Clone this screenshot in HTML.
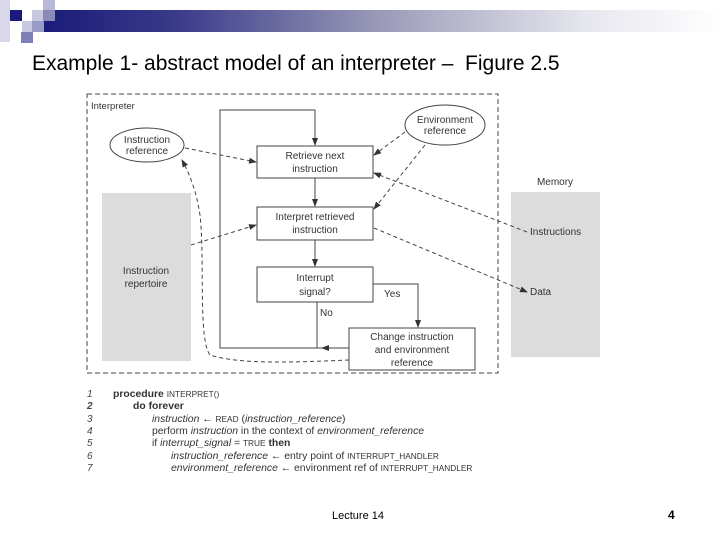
<!DOCTYPE html>
<html><head><meta charset="utf-8"><style>
body{margin:0;width:720px;height:540px;background:#fff;overflow:hidden;position:relative;font-family:"Liberation Sans",sans-serif}
.a{position:absolute}
.code{position:absolute;font-size:10.4px;color:#333;white-space:nowrap}
.n{position:absolute;left:87px;font-style:italic;font-size:10px;color:#444}
.sc{font-size:8.3px}
</style></head><body>
<div class="a" style="left:40px;top:10px;width:680px;height:22px;background:linear-gradient(90deg,#1a1a7a 0%,#3a3a8a 20%,#9a9ab8 50%,#e6e6ee 80%,#fff 100%)"></div>
<div class="a" style="left:0;top:0;width:10px;height:42px;background:#d8d8ea"></div>
<div class="a" style="left:10px;top:10px;width:12px;height:11px;background:#1a1a7a"></div>
<div class="a" style="left:32px;top:10px;width:12px;height:11px;background:#c8c8e0"></div>
<div class="a" style="left:43px;top:0;width:12px;height:11px;background:#b8b8d8"></div>
<div class="a" style="left:43px;top:10px;width:12px;height:11px;background:#8a8ab8"></div>
<div class="a" style="left:22px;top:21px;width:12px;height:11px;background:#c8c8e0"></div>
<div class="a" style="left:32px;top:21px;width:12px;height:11px;background:#9a9ac8"></div>
<div class="a" style="left:21px;top:32px;width:12px;height:11px;background:#8080b8"></div>
<div class="a" style="left:32px;top:52px;font-size:21px;color:#000">Example 1- abstract model of an interpreter –&nbsp; Figure 2.5</div>

<svg class="a" style="left:0;top:0" width="720" height="540" font-family="Liberation Sans, sans-serif" font-size="10" fill="#333">
<defs><marker id="ar" markerWidth="8" markerHeight="6" refX="7" refY="3" orient="auto"><path d="M0,0 L8,3 L0,6z" fill="#333"/></marker></defs>
<rect x="87" y="94" width="411" height="279" fill="none" stroke="#444" stroke-dasharray="5,3"/>
<text x="91" y="109" font-size="9.5">Interpreter</text>
<rect x="102" y="193" width="89" height="168" fill="#dcdcdc"/>
<text x="146" y="274" text-anchor="middle">Instruction</text>
<text x="146" y="287" text-anchor="middle">repertoire</text>
<rect x="511" y="192" width="89" height="165" fill="#dcdcdc"/>
<text x="555" y="185" text-anchor="middle">Memory</text>
<text x="530" y="235">Instructions</text>
<text x="530" y="295">Data</text>
<ellipse cx="147" cy="145" rx="37" ry="17" fill="#fff" stroke="#444"/>
<text x="147" y="143" text-anchor="middle">Instruction</text>
<text x="147" y="154" text-anchor="middle">reference</text>
<ellipse cx="445" cy="125" rx="40" ry="20" fill="#fff" stroke="#444"/>
<text x="445" y="123" text-anchor="middle">Environment</text>
<text x="445" y="134" text-anchor="middle">reference</text>
<g fill="#fff" stroke="#444">
<rect x="257" y="146" width="116" height="32"/>
<rect x="257" y="207" width="116" height="33"/>
<rect x="257" y="267" width="116" height="35"/>
<rect x="349" y="328" width="126" height="42"/>
</g>
<g text-anchor="middle">
<text x="315" y="159">Retrieve next</text><text x="315" y="172">instruction</text>
<text x="315" y="220">Interpret retrieved</text><text x="315" y="233">instruction</text>
<text x="315" y="281">Interrupt</text><text x="315" y="295">signal?</text>
<text x="412" y="340">Change instruction</text><text x="412" y="353">and environment</text><text x="412" y="366">reference</text>
</g>
<text x="384" y="297">Yes</text>
<text x="320" y="316">No</text>
<g fill="none" stroke="#444">
<path d="M349,348 H220 V110 H315 V145" marker-end="url(#ar)"/>
<path d="M317,302 V348" />
<path d="M340,348 H322" marker-end="url(#ar)"/>
<path d="M315,178 V206" marker-end="url(#ar)"/>
<path d="M315,240 V266" marker-end="url(#ar)"/>
<path d="M373,284 H418 V327" marker-end="url(#ar)"/>
</g>
<g fill="none" stroke="#444" stroke-dasharray="4,3">
<path d="M185,148 L256,162" marker-end="url(#ar)"/>
<path d="M405,132 L374,155" marker-end="url(#ar)"/>
<path d="M425,145 L374,209" marker-end="url(#ar)"/>
<path d="M191,245 L256,225" marker-end="url(#ar)"/>
<path d="M527,232 L374,173" marker-end="url(#ar)"/>
<path d="M374,228 L527,292" marker-end="url(#ar)"/>
<path d="M349,360 C300,362 240,365 210,355 C198,340 205,260 200,215 C196,190 190,175 182,160" marker-end="url(#ar)"/>
</g>
</svg>

<div class="n" style="top:389px">1</div>
<div class="n" style="top:401px;font-weight:bold">2</div>
<div class="n" style="top:414px">3</div>
<div class="n" style="top:426px">4</div>
<div class="n" style="top:438px">5</div>
<div class="n" style="top:451px">6</div>
<div class="n" style="top:463px">7</div>
<div class="code" style="left:113px;top:389px"><b>procedure</b> <span class="sc">INTERPRET()</span></div>
<div class="code" style="left:133px;top:401px"><b>do forever</b></div>
<div class="code" style="left:152px;top:414px"><i>instruction</i> ← <span class="sc">READ</span> (<i>instruction_reference</i>)</div>
<div class="code" style="left:152px;top:426px">perform <i>instruction</i> in the context of <i>environment_reference</i></div>
<div class="code" style="left:152px;top:438px">if <i>interrupt_signal</i> = <span class="sc">TRUE</span> <b>then</b></div>
<div class="code" style="left:171px;top:451px"><i>instruction_reference</i> ← entry point of <span class="sc">INTERRUPT_HANDLER</span></div>
<div class="code" style="left:171px;top:463px"><i>environment_reference</i> ← environment ref of <span class="sc">INTERRUPT_HANDLER</span></div>
<div class="a" style="left:332px;top:510px;font-size:11px">Lecture 14</div>
<div class="a" style="left:668px;top:508px;font-size:12px;font-weight:bold">4</div>
</body></html>
